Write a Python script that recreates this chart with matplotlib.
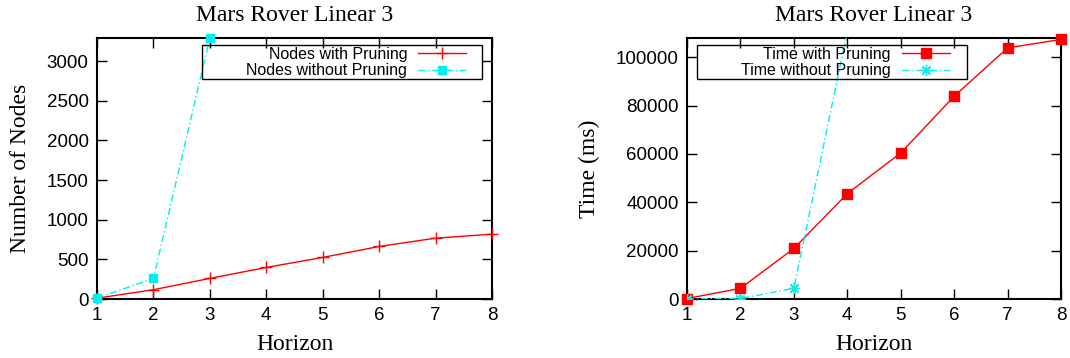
import matplotlib.pyplot as plt
from matplotlib.patches import Rectangle

# dati
horizon = [1, 2, 3, 4, 5, 6, 7, 8]
nodes_pruning = [10, 117, 260, 398, 524, 662, 767, 817]
horizon_nop = [1, 2, 3]
nodes_no_pruning = [10, 260, 3290]
time_pruning = [200, 4400, 20900, 43600, 60400, 83900, 103900, 107400]
horizon_time_nop = [1, 2, 3, 4]
time_no_pruning = [100, 200, 4400, 110700]

titolo = 'Mars Rover Linear 3'
xticks = [1, 2, 3, 4, 5, 6, 7, 8]
yticks_nodes = [0, 500, 1000, 1500, 2000, 2500, 3000]
yticks_time = [0, 20000, 40000, 60000, 80000, 100000]

rosso = '#ff0000'
ciano = '#00f0f0'
serif = 'Liberation Serif'
sans = 'Liberation Sans'
dashdot = (0, (5, 2, 1, 2))

fig = plt.figure(figsize=(10.7, 3.58), dpi=100)
ax1 = fig.add_axes([97 / 1070, 59 / 358, 395 / 1070, 261 / 358])
ax2 = fig.add_axes([687 / 1070, 59 / 358, 374 / 1070, 261 / 358])


def stile(ax, yticks, ylim):
    ax.set_xlim(1, 8)
    ax.set_ylim(0, ylim)
    ax.set_xticks(xticks)
    ax.set_yticks(yticks)
    ax.tick_params(direction='in', length=7, width=1, top=True, right=True,
                   labelsize=13.5, colors='black')
    ax.tick_params(axis='y', pad=6)
    ax.tick_params(axis='x', pad=6)
    for lab in ax.get_xticklabels() + ax.get_yticklabels():
        lab.set_family(sans)
    for s in ax.spines.values():
        s.set_linewidth(1.5)
    ax.set_title(titolo, family=serif, fontsize=17, pad=12)
    ax.set_xlabel('Horizon', family=serif, fontsize=17, labelpad=7)


# Grafico 1: nodi
stile(ax1, yticks_nodes, 3290)
ax1.plot(horizon, nodes_pruning, color=rosso, lw=1, marker='+', ms=8,
         mew=1, label='Nodes with Pruning', clip_on=False, zorder=3)
ax1.plot(horizon_nop, nodes_no_pruning, color=ciano, lw=1, ls=dashdot,
         marker='s', ms=6, label='Nodes without Pruning', clip_on=False, zorder=3)
ax1.set_ylabel('Number of Nodes', family=serif, fontsize=17, labelpad=11)
ax1.add_patch(Rectangle((0.265, 0.843), 0.709, 0.130, transform=ax1.transAxes,
                        fill=True, facecolor='none', edgecolor='black', lw=1, zorder=4))
ax1.legend(loc='center right', bbox_to_anchor=(0.955, 0.906), frameon=False,
           markerfirst=False, borderpad=0, handlelength=3.0, handletextpad=0.7,
           labelspacing=0.12, prop={'family': sans, 'size': 11.5})

# Grafico 2: tempo
stile(ax2, yticks_time, 108000)
ax2.plot(horizon, time_pruning, color=rosso, lw=1, marker='s', ms=7,
         label='Time with Pruning', clip_on=False, zorder=3)
ax2.plot(horizon_time_nop, time_no_pruning, color=ciano, lw=1, ls=dashdot,
         marker=(8, 2, 0), ms=8, mew=1, label='Time without Pruning', zorder=3)
ax2.set_ylabel('Time (ms)', family=serif, fontsize=17, labelpad=11)
ax2.add_patch(Rectangle((0.0275, 0.843), 0.720, 0.130, transform=ax2.transAxes,
                        facecolor='none', edgecolor='black', lw=1, zorder=4))
ax2.legend(loc='center right', bbox_to_anchor=(0.724, 0.906), frameon=False,
           markerfirst=False, borderpad=0, handlelength=3.0, handletextpad=0.7,
           labelspacing=0.12, prop={'family': sans, 'size': 11.5})

plt.savefig('out.png', dpi=100)
